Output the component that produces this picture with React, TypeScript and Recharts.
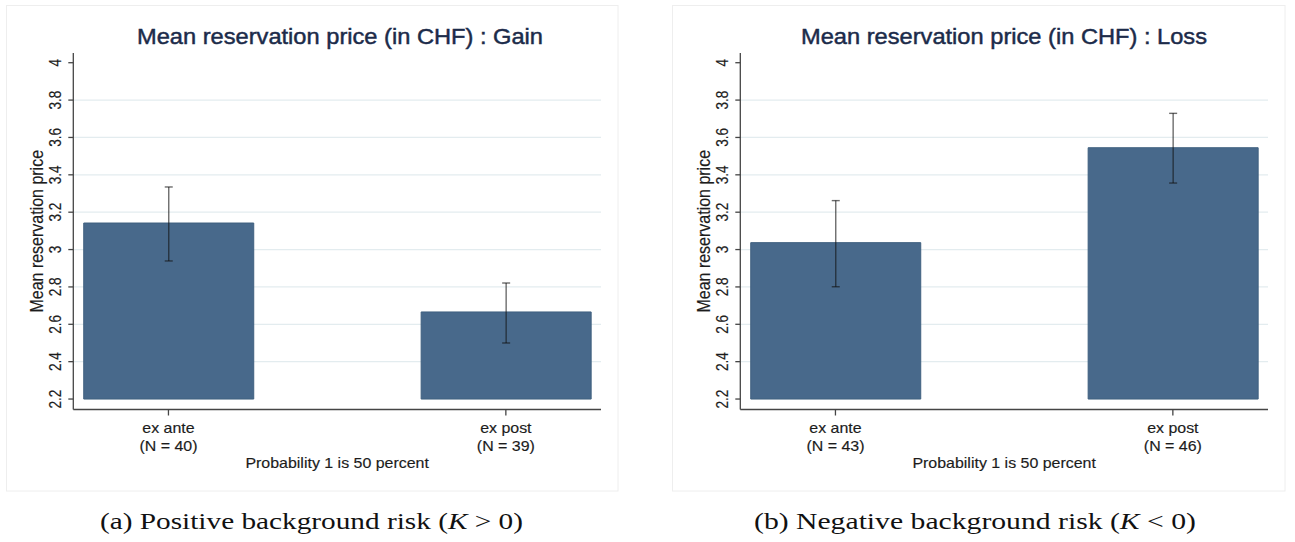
import React from "react";
import { ComposedChart, Bar, ErrorBar, XAxis, YAxis, CartesianGrid, Label } from "recharts";

// ---- data ----
const categories = ["ex ante", "ex post"];
const categoryPositions = [1, 2];
const gainCounts = ["(N = 40)", "(N = 39)"];
const lossCounts = ["(N = 43)", "(N = 46)"];
const gainMeans = [3.142, 2.666];
const gainLower = [2.939, 2.5];
const gainUpper = [3.335, 2.821];
const lossMeans = [3.037, 3.545];
const lossLower = [2.801, 3.356];
const lossUpper = [3.262, 3.729];
const barBase = 2.2;
const yTicks = [2.2, 2.4, 2.6, 2.8, 3, 3.2, 3.4, 3.6, 3.8, 4];
const gridValues = [2.4, 2.6, 2.8, 3, 3.2, 3.4, 3.6, 3.8];
const yDomain = [2.144, 4.052];
const xDomain = [0.718, 2.282];
const titles = ["Mean reservation price (in CHF) : Gain", "Mean reservation price (in CHF) : Loss"];
const yLabel = "Mean reservation price";
const xLabel = "Probability 1 is 50 percent";
const captionLetters = ["(a)", "(b)"];
const captionTexts = ["Positive background risk", "Negative background risk"];
const captionMath = [">", "<"];

// ---- styles ----
const SANS = "'Liberation Sans', Arial, Helvetica, sans-serif";
const SERIF = "'Liberation Serif', 'Times New Roman', serif";
const AXIS = "#454545";
const TEXT = "#1c1c1c";
const BAR = "#48698b";
const BAR_EDGE = "#3f607f";
const TITLE = "#1c2b4a";
const STRETCH = 1.14;

const buildRows = (means: number[], lower: number[], upper: number[]) =>
  categoryPositions.map((pos, i) => ({
    pos,
    range: [barBase, means[i]],
    mean: means[i],
    err: [means[i] - lower[i], upper[i] - means[i]],
  }));

const gainRows = buildRows(gainMeans, gainLower, gainUpper);
const lossRows = buildRows(lossMeans, lossLower, lossUpper);

const YTick = (props: any) => {
  const { x, y, payload } = props;
  return (
    <text
      transform={`translate(${x - 10},${y}) scale(1.22,1) rotate(-90)`}
      textAnchor="middle"
      dominantBaseline="central"
      fontSize={13.5}
      fontFamily={SANS}
      fill={TEXT}
      stroke={TEXT}
      strokeWidth={0.15}
    >
      {String(payload.value)}
    </text>
  );
};

const makeXTick = (counts: string[]) => (props: any) => {
  const { x, y, payload } = props;
  const i = categoryPositions.indexOf(payload.value);
  return (
    <g transform={`translate(${x},${y}) scale(${STRETCH},1)`}>
      <text x={0} y={17.5} textAnchor="middle" fontSize={14} fontFamily={SANS} fill={TEXT} stroke={TEXT} strokeWidth={0.15}>
        {categories[i]}
      </text>
      <text x={0} y={35.5} textAnchor="middle" fontSize={14} fontFamily={SANS} fill={TEXT} stroke={TEXT} strokeWidth={0.15}>
        {counts[i]}
      </text>
    </g>
  );
};

const YLabelContent = (props: any) => {
  const vb = props.viewBox || {};
  const cx = vb.x + vb.width - 37;
  const cy = vb.y + vb.height / 2;
  return (
    <text
      transform={`translate(${cx},${cy}) scale(${STRETCH},1) rotate(-90)`}
      textAnchor="middle"
      dominantBaseline="central"
      fontSize={16}
      fontFamily={SANS}
      fill={TEXT}
      stroke={TEXT}
      strokeWidth={0.15}
    >
      {yLabel}
    </text>
  );
};

const XLabelContent = (props: any) => {
  const vb = props.viewBox || {};
  const cx = vb.x + vb.width / 2;
  const by = vb.y + 58.5;
  return (
    <text
      transform={`translate(${cx},${by}) scale(${STRETCH},1)`}
      textAnchor="middle"
      fontSize={14}
      fontFamily={SANS}
      fill={TEXT}
      stroke={TEXT}
      strokeWidth={0.15}
    >
      {xLabel}
    </text>
  );
};

function Panel({ left, rows, counts }: { left: number; rows: any[]; counts: string[] }) {
  const XTick = makeXTick(counts);
  return (
    <div style={{ position: "absolute", left, top: 0, width: 640, height: 500 }}>
      <ComposedChart
        width={640}
        height={500}
        data={rows}
        margin={{ top: 53, right: 39, bottom: 30.5, left: 0 }}
      >
        <CartesianGrid
          horizontal
          vertical={false}
          horizontalValues={gridValues}
          stroke="#e3ecef"
          strokeWidth={1.2}
        />
        <XAxis
          type="number"
          dataKey="pos"
          domain={xDomain}
          ticks={categoryPositions}
          allowDataOverflow
          interval={0}
          height={60}
          tickSize={6}
          tickMargin={0}
          axisLine={{ stroke: AXIS, strokeWidth: 1.3 }}
          tickLine={{ stroke: AXIS, strokeWidth: 1.3 }}
          tick={XTick}
        >
          <Label content={XLabelContent} />
        </XAxis>
        <YAxis
          type="number"
          domain={yDomain}
          ticks={yTicks}
          allowDataOverflow
          interval={0}
          width={73.3}
          tickSize={5}
          tickMargin={3}
          axisLine={{ stroke: AXIS, strokeWidth: 1.3 }}
          tickLine={{ stroke: AXIS, strokeWidth: 1.3 }}
          tick={YTick}
        >
          <Label content={YLabelContent} />
        </YAxis>
        <Bar
          dataKey="range"
          fill={BAR}
          stroke={BAR_EDGE}
          strokeWidth={1}
          barSize={170}
          isAnimationActive={false}
        >
          <ErrorBar
            dataKey="err"
            direction="y"
            width={4}
            stroke="#111111"
            strokeOpacity={0.62}
            strokeWidth={1.4}
            isAnimationActive={false}
          />
        </Bar>
      </ComposedChart>
    </div>
  );
}

export default function App() {
  return (
    <div
      style={{
        position: "absolute",
        left: 0,
        top: 0,
        width: 1295,
        height: 542,
        background: "#ffffff",
        overflow: "hidden",
      }}
    >
      <Panel left={0} rows={gainRows} counts={gainCounts} />
      <Panel left={667} rows={lossRows} counts={lossCounts} />
      <svg
        width={1295}
        height={542}
        style={{ position: "absolute", left: 0, top: 0, pointerEvents: "none" }}
      >
        <rect x={6.5} y={5.5} width={611.5} height={485.5} fill="none" stroke="#eeeeee" strokeWidth={1} />
        <rect x={672.5} y={5.5} width={612.5} height={485.5} fill="none" stroke="#eeeeee" strokeWidth={1} />
        <text
          x={137}
          y={44.3}
          fontSize={21.5}
          fontFamily={SANS}
          fill={TITLE}
          stroke={TITLE}
          strokeWidth={0.45}
          textLength={406}
          lengthAdjust="spacingAndGlyphs"
        >
          {titles[0]}
        </text>
        <text
          x={801}
          y={44.3}
          fontSize={21.5}
          fontFamily={SANS}
          fill={TITLE}
          stroke={TITLE}
          strokeWidth={0.45}
          textLength={406}
          lengthAdjust="spacingAndGlyphs"
        >
          {titles[1]}
        </text>
        <text
          x={100}
          y={529}
          fontSize={24}
          fontFamily={SERIF}
          fill="#111"
          textLength={423}
          lengthAdjust="spacingAndGlyphs"
        >
          {captionLetters[0]} {captionTexts[0]} (<tspan fontStyle="italic">K</tspan> {captionMath[0]} 0)
        </text>
        <text
          x={754}
          y={529}
          fontSize={24}
          fontFamily={SERIF}
          fill="#111"
          textLength={442}
          lengthAdjust="spacingAndGlyphs"
        >
          {captionLetters[1]} {captionTexts[1]} (<tspan fontStyle="italic">K</tspan> {captionMath[1]} 0)
        </text>
      </svg>
    </div>
  );
}
